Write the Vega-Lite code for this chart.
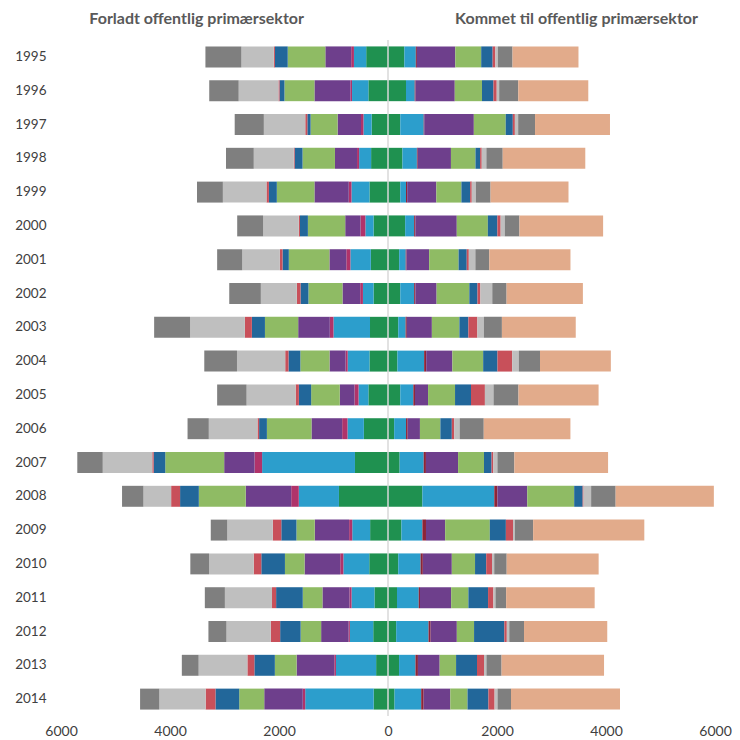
{
"$schema": "https://vega.github.io/schema/vega-lite/v6.json",
"width": 654, "height": 676,
"autosize": "none",
"padding": {"left": 61, "top": 40, "right": 25, "bottom": 24},
"background": "white",
"config": {"view": {"stroke": null}, "font": "Lato"},
"layer": [
{
"data": {"values": [
{"y":"1995","c":"c01","v":-400},{"y":"1995","c":"c02","v":-225},{"y":"1995","c":"c03","v":-50},{"y":"1995","c":"c04","v":-475},{"y":"1995","c":"c05","v":-690},{"y":"1995","c":"c06","v":-235},{"y":"1995","c":"c07","v":-20},{"y":"1995","c":"c08","v":-595},{"y":"1995","c":"c09","v":-660},
{"y":"1995","c":"c01","v":300},{"y":"1995","c":"c02","v":210},{"y":"1995","c":"c03r","v":20},{"y":"1995","c":"c04","v":705},{"y":"1995","c":"c05","v":475},{"y":"1995","c":"c06","v":210},{"y":"1995","c":"c07","v":50},{"y":"1995","c":"c08","v":45},{"y":"1995","c":"c09","v":270},{"y":"1995","c":"c10","v":1210},
{"y":"1996","c":"c01","v":-360},{"y":"1996","c":"c02","v":-300},{"y":"1996","c":"c03","v":-30},{"y":"1996","c":"c04","v":-660},{"y":"1996","c":"c05","v":-550},{"y":"1996","c":"c06","v":-90},{"y":"1996","c":"c07","v":-20},{"y":"1996","c":"c08","v":-730},{"y":"1996","c":"c09","v":-540},
{"y":"1996","c":"c01","v":330},{"y":"1996","c":"c02","v":160},{"y":"1996","c":"c03r","v":15},{"y":"1996","c":"c04","v":720},{"y":"1996","c":"c05","v":500},{"y":"1996","c":"c06","v":210},{"y":"1996","c":"c07","v":60},{"y":"1996","c":"c08","v":45},{"y":"1996","c":"c09","v":350},{"y":"1996","c":"c10","v":1285},
{"y":"1997","c":"c01","v":-300},{"y":"1997","c":"c02","v":-150},{"y":"1997","c":"c03","v":-45},{"y":"1997","c":"c04","v":-430},{"y":"1997","c":"c05","v":-495},{"y":"1997","c":"c06","v":-60},{"y":"1997","c":"c07","v":-38},{"y":"1997","c":"c08","v":-760},{"y":"1997","c":"c09","v":-535},
{"y":"1997","c":"c01","v":225},{"y":"1997","c":"c02","v":430},{"y":"1997","c":"c03r","v":10},{"y":"1997","c":"c04","v":910},{"y":"1997","c":"c05","v":585},{"y":"1997","c":"c06","v":130},{"y":"1997","c":"c07","v":38},{"y":"1997","c":"c08","v":60},{"y":"1997","c":"c09","v":310},{"y":"1997","c":"c10","v":1375},
{"y":"1998","c":"c01","v":-310},{"y":"1998","c":"c02","v":-220},{"y":"1998","c":"c03","v":-38},{"y":"1998","c":"c04","v":-405},{"y":"1998","c":"c05","v":-595},{"y":"1998","c":"c06","v":-145},{"y":"1998","c":"c07","v":-15},{"y":"1998","c":"c08","v":-735},{"y":"1998","c":"c09","v":-510},
{"y":"1998","c":"c01","v":265},{"y":"1998","c":"c02","v":265},{"y":"1998","c":"c03r","v":15},{"y":"1998","c":"c04","v":610},{"y":"1998","c":"c05","v":450},{"y":"1998","c":"c06","v":85},{"y":"1998","c":"c07","v":30},{"y":"1998","c":"c08","v":85},{"y":"1998","c":"c09","v":300},{"y":"1998","c":"c10","v":1515},
{"y":"1999","c":"c01","v":-340},{"y":"1999","c":"c02","v":-330},{"y":"1999","c":"c03","v":-50},{"y":"1999","c":"c04","v":-630},{"y":"1999","c":"c05","v":-690},{"y":"1999","c":"c06","v":-145},{"y":"1999","c":"c07","v":-45},{"y":"1999","c":"c08","v":-800},{"y":"1999","c":"c09","v":-475},
{"y":"1999","c":"c01","v":225},{"y":"1999","c":"c02","v":105},{"y":"1999","c":"c03r","v":22},{"y":"1999","c":"c04","v":535},{"y":"1999","c":"c05","v":460},{"y":"1999","c":"c06","v":160},{"y":"1999","c":"c07","v":30},{"y":"1999","c":"c08","v":75},{"y":"1999","c":"c09","v":270},{"y":"1999","c":"c10","v":1430},
{"y":"2000","c":"c01","v":-265},{"y":"2000","c":"c02","v":-150},{"y":"2000","c":"c03","v":-90},{"y":"2000","c":"c04","v":-280},{"y":"2000","c":"c05","v":-685},{"y":"2000","c":"c06","v":-145},{"y":"2000","c":"c07","v":-22},{"y":"2000","c":"c08","v":-655},{"y":"2000","c":"c09","v":-475},
{"y":"2000","c":"c01","v":315},{"y":"2000","c":"c02","v":165},{"y":"2000","c":"c03r","v":22},{"y":"2000","c":"c04","v":760},{"y":"2000","c":"c05","v":570},{"y":"2000","c":"c06","v":175},{"y":"2000","c":"c07","v":60},{"y":"2000","c":"c08","v":75},{"y":"2000","c":"c09","v":270},{"y":"2000","c":"c10","v":1535},
{"y":"2001","c":"c01","v":-315},{"y":"2001","c":"c02","v":-375},{"y":"2001","c":"c03","v":-75},{"y":"2001","c":"c04","v":-310},{"y":"2001","c":"c05","v":-745},{"y":"2001","c":"c06","v":-115},{"y":"2001","c":"c07","v":-50},{"y":"2001","c":"c08","v":-690},{"y":"2001","c":"c09","v":-460},
{"y":"2001","c":"c01","v":205},{"y":"2001","c":"c02","v":120},{"y":"2001","c":"c03r","v":15},{"y":"2001","c":"c04","v":415},{"y":"2001","c":"c05","v":540},{"y":"2001","c":"c06","v":150},{"y":"2001","c":"c07","v":38},{"y":"2001","c":"c08","v":120},{"y":"2001","c":"c09","v":255},{"y":"2001","c":"c10","v":1490},
{"y":"2002","c":"c01","v":-265},{"y":"2002","c":"c02","v":-195},{"y":"2002","c":"c03","v":-50},{"y":"2002","c":"c04","v":-325},{"y":"2002","c":"c05","v":-625},{"y":"2002","c":"c06","v":-145},{"y":"2002","c":"c07","v":-68},{"y":"2002","c":"c08","v":-660},{"y":"2002","c":"c09","v":-580},
{"y":"2002","c":"c01","v":225},{"y":"2002","c":"c02","v":255},{"y":"2002","c":"c03r","v":22},{"y":"2002","c":"c04","v":390},{"y":"2002","c":"c05","v":600},{"y":"2002","c":"c06","v":150},{"y":"2002","c":"c07","v":53},{"y":"2002","c":"c08","v":218},{"y":"2002","c":"c09","v":263},{"y":"2002","c":"c10","v":1400},
{"y":"2003","c":"c01","v":-330},{"y":"2003","c":"c02","v":-670},{"y":"2003","c":"c03","v":-68},{"y":"2003","c":"c04","v":-580},{"y":"2003","c":"c05","v":-610},{"y":"2003","c":"c06","v":-240},{"y":"2003","c":"c07","v":-128},{"y":"2003","c":"c08","v":-1005},{"y":"2003","c":"c09","v":-660},
{"y":"2003","c":"c01","v":188},{"y":"2003","c":"c02","v":135},{"y":"2003","c":"c03r","v":22},{"y":"2003","c":"c04","v":460},{"y":"2003","c":"c05","v":505},{"y":"2003","c":"c06","v":165},{"y":"2003","c":"c07","v":165},{"y":"2003","c":"c08","v":120},{"y":"2003","c":"c09","v":330},{"y":"2003","c":"c10","v":1355},
{"y":"2004","c":"c01","v":-340},{"y":"2004","c":"c02","v":-400},{"y":"2004","c":"c03","v":-38},{"y":"2004","c":"c04","v":-295},{"y":"2004","c":"c05","v":-535},{"y":"2004","c":"c06","v":-218},{"y":"2004","c":"c07","v":-60},{"y":"2004","c":"c08","v":-885},{"y":"2004","c":"c09","v":-600},
{"y":"2004","c":"c01","v":173},{"y":"2004","c":"c02","v":490},{"y":"2004","c":"c03r","v":38},{"y":"2004","c":"c04","v":480},{"y":"2004","c":"c05","v":565},{"y":"2004","c":"c06","v":263},{"y":"2004","c":"c07","v":270},{"y":"2004","c":"c08","v":120},{"y":"2004","c":"c09","v":390},{"y":"2004","c":"c10","v":1300},
{"y":"2005","c":"c01","v":-360},{"y":"2005","c":"c02","v":-180},{"y":"2005","c":"c03","v":-75},{"y":"2005","c":"c04","v":-270},{"y":"2005","c":"c05","v":-525},{"y":"2005","c":"c06","v":-225},{"y":"2005","c":"c07","v":-60},{"y":"2005","c":"c08","v":-900},{"y":"2005","c":"c09","v":-540},
{"y":"2005","c":"c01","v":225},{"y":"2005","c":"c02","v":240},{"y":"2005","c":"c03r","v":30},{"y":"2005","c":"c04","v":240},{"y":"2005","c":"c05","v":495},{"y":"2005","c":"c06","v":293},{"y":"2005","c":"c07","v":255},{"y":"2005","c":"c08","v":158},{"y":"2005","c":"c09","v":458},{"y":"2005","c":"c10","v":1470},
{"y":"2006","c":"c01","v":-443},{"y":"2006","c":"c02","v":-300},{"y":"2006","c":"c03","v":-98},{"y":"2006","c":"c04","v":-563},{"y":"2006","c":"c05","v":-818},{"y":"2006","c":"c06","v":-143},{"y":"2006","c":"c07","v":-30},{"y":"2006","c":"c08","v":-893},{"y":"2006","c":"c09","v":-390},
{"y":"2006","c":"c01","v":113},{"y":"2006","c":"c02","v":218},{"y":"2006","c":"c03r","v":30},{"y":"2006","c":"c04","v":225},{"y":"2006","c":"c05","v":375},{"y":"2006","c":"c06","v":210},{"y":"2006","c":"c07","v":45},{"y":"2006","c":"c08","v":98},{"y":"2006","c":"c09","v":443},{"y":"2006","c":"c10","v":1590},
{"y":"2007","c":"c01","v":-606},{"y":"2007","c":"c02","v":-1704},{"y":"2007","c":"c03","v":-139},{"y":"2007","c":"c04","v":-557},{"y":"2007","c":"c05","v":-1081},{"y":"2007","c":"c06","v":-213},{"y":"2007","c":"c07","v":-25},{"y":"2007","c":"c08","v":-909},{"y":"2007","c":"c09","v":-467},
{"y":"2007","c":"c01","v":213},{"y":"2007","c":"c02","v":442},{"y":"2007","c":"c03r","v":41},{"y":"2007","c":"c04","v":590},{"y":"2007","c":"c05","v":475},{"y":"2007","c":"c06","v":139},{"y":"2007","c":"c07","v":33},{"y":"2007","c":"c08","v":74},{"y":"2007","c":"c09","v":311},{"y":"2007","c":"c10","v":1720},
{"y":"2008","c":"c01","v":-900},{"y":"2008","c":"c02","v":-737},{"y":"2008","c":"c03","v":-139},{"y":"2008","c":"c04","v":-835},{"y":"2008","c":"c05","v":-860},{"y":"2008","c":"c06","v":-344},{"y":"2008","c":"c07","v":-164},{"y":"2008","c":"c08","v":-508},{"y":"2008","c":"c09","v":-393},
{"y":"2008","c":"c01","v":631},{"y":"2008","c":"c02","v":1319},{"y":"2008","c":"c03r","v":57},{"y":"2008","c":"c04","v":549},{"y":"2008","c":"c05","v":860},{"y":"2008","c":"c06","v":156},{"y":"2008","c":"c07","v":16},{"y":"2008","c":"c08","v":139},{"y":"2008","c":"c09","v":450},{"y":"2008","c":"c10","v":1802},
{"y":"2009","c":"c01","v":-328},{"y":"2009","c":"c02","v":-328},{"y":"2009","c":"c03","v":-57},{"y":"2009","c":"c04","v":-631},{"y":"2009","c":"c05","v":-336},{"y":"2009","c":"c06","v":-278},{"y":"2009","c":"c07","v":-156},{"y":"2009","c":"c08","v":-835},{"y":"2009","c":"c09","v":-303},
{"y":"2009","c":"c01","v":246},{"y":"2009","c":"c02","v":385},{"y":"2009","c":"c03r","v":66},{"y":"2009","c":"c04","v":352},{"y":"2009","c":"c05","v":819},{"y":"2009","c":"c06","v":295},{"y":"2009","c":"c07","v":131},{"y":"2009","c":"c08","v":33},{"y":"2009","c":"c09","v":336},{"y":"2009","c":"c10","v":2040},
{"y":"2010","c":"c01","v":-344},{"y":"2010","c":"c02","v":-475},{"y":"2010","c":"c03","v":-57},{"y":"2010","c":"c04","v":-655},{"y":"2010","c":"c05","v":-360},{"y":"2010","c":"c06","v":-434},{"y":"2010","c":"c07","v":-139},{"y":"2010","c":"c08","v":-819},{"y":"2010","c":"c09","v":-344},
{"y":"2010","c":"c01","v":188},{"y":"2010","c":"c02","v":410},{"y":"2010","c":"c03r","v":41},{"y":"2010","c":"c04","v":532},{"y":"2010","c":"c05","v":426},{"y":"2010","c":"c06","v":205},{"y":"2010","c":"c07","v":106},{"y":"2010","c":"c08","v":41},{"y":"2010","c":"c09","v":229},{"y":"2010","c":"c10","v":1687},
{"y":"2011","c":"c01","v":-248},{"y":"2011","c":"c02","v":-421},{"y":"2011","c":"c03","v":-38},{"y":"2011","c":"c04","v":-496},{"y":"2011","c":"c05","v":-361},{"y":"2011","c":"c06","v":-489},{"y":"2011","c":"c07","v":-75},{"y":"2011","c":"c08","v":-865},{"y":"2011","c":"c09","v":-368},
{"y":"2011","c":"c01","v":165},{"y":"2011","c":"c02","v":399},{"y":"2011","c":"c03r","v":23},{"y":"2011","c":"c04","v":572},{"y":"2011","c":"c05","v":316},{"y":"2011","c":"c06","v":361},{"y":"2011","c":"c07","v":98},{"y":"2011","c":"c08","v":38},{"y":"2011","c":"c09","v":196},{"y":"2011","c":"c10","v":1624},
{"y":"2012","c":"c01","v":-271},{"y":"2012","c":"c02","v":-429},{"y":"2012","c":"c03","v":-23},{"y":"2012","c":"c04","v":-504},{"y":"2012","c":"c05","v":-376},{"y":"2012","c":"c06","v":-376},{"y":"2012","c":"c07","v":-173},{"y":"2012","c":"c08","v":-812},{"y":"2012","c":"c09","v":-331},
{"y":"2012","c":"c01","v":150},{"y":"2012","c":"c02","v":594},{"y":"2012","c":"c03r","v":38},{"y":"2012","c":"c04","v":481},{"y":"2012","c":"c05","v":316},{"y":"2012","c":"c06","v":556},{"y":"2012","c":"c07","v":45},{"y":"2012","c":"c08","v":45},{"y":"2012","c":"c09","v":271},{"y":"2012","c":"c10","v":1527},
{"y":"2013","c":"c01","v":-218},{"y":"2013","c":"c02","v":-737},{"y":"2013","c":"c03","v":-30},{"y":"2013","c":"c04","v":-692},{"y":"2013","c":"c05","v":-399},{"y":"2013","c":"c06","v":-376},{"y":"2013","c":"c07","v":-128},{"y":"2013","c":"c08","v":-895},{"y":"2013","c":"c09","v":-308},
{"y":"2013","c":"c01","v":203},{"y":"2013","c":"c02","v":301},{"y":"2013","c":"c03r","v":45},{"y":"2013","c":"c04","v":399},{"y":"2013","c":"c05","v":301},{"y":"2013","c":"c06","v":384},{"y":"2013","c":"c07","v":128},{"y":"2013","c":"c08","v":45},{"y":"2013","c":"c09","v":278},{"y":"2013","c":"c10","v":1880},
{"y":"2014","c":"c01","v":-263},{"y":"2014","c":"c02","v":-1256},{"y":"2014","c":"c03","v":-45},{"y":"2014","c":"c04","v":-707},{"y":"2014","c":"c05","v":-459},{"y":"2014","c":"c06","v":-436},{"y":"2014","c":"c07","v":-180},{"y":"2014","c":"c08","v":-850},{"y":"2014","c":"c09","v":-353},
{"y":"2014","c":"c01","v":120},{"y":"2014","c":"c02","v":489},{"y":"2014","c":"c03r","v":45},{"y":"2014","c":"c04","v":489},{"y":"2014","c":"c05","v":316},{"y":"2014","c":"c06","v":384},{"y":"2014","c":"c07","v":113},{"y":"2014","c":"c08","v":53},{"y":"2014","c":"c09","v":248},{"y":"2014","c":"c10","v":2000}
]},
"mark": {"type": "bar"},
"encoding": {
"y": {"field": "y", "type": "nominal", "title": null, "scale": {"paddingInner": 0.38, "paddingOuter": 0.19}, "axis": {"ticks": false, "domain": false, "labelPadding": 15, "labelFontSize": 13.5, "labelColor": "#404040"}},
"x": {"field": "v", "type": "quantitative", "stack": "zero", "scale": {"domain": [-6000, 6000], "nice": false}, "axis": {"values": [-6000, -4000, -2000, 0, 2000, 4000, 6000], "labelExpr": "format(abs(datum.value), 'd')", "labelFlush": false, "grid": false, "ticks": false, "domain": false, "title": null, "labelPadding": 8, "labelFontSize": 14, "labelColor": "#404040"}},
"color": {"field": "c", "type": "nominal", "scale": {"domain": ["c01","c02","c03","c03r","c04","c05","c06","c07","c08","c09","c10"], "range": ["#1f9150","#2c9ecc","#b0336a","#8e2436","#6e3f8c","#8fbb64","#22679a","#c8505a","#bfbfbf","#7f7f7f","#e2ab8b"]}, "legend": null},
"order": {"field": "c", "sort": "ascending"}
}
},
{
"data": {"values": [{"z": 0}]},
"mark": {"type": "rule", "color": "#d9d9d9", "strokeWidth": 1.5},
"encoding": {
"x": {"field": "z", "type": "quantitative", "axis": {"orient": "top", "values": [-3520, 3450], "labelExpr": "datum.value < 0 ? 'Forladt offentlig primærsektor' : 'Kommet til offentlig primærsektor'", "labelFlush": false, "ticks": false, "domain": false, "grid": false, "title": null, "labelFontSize": 16, "labelFontWeight": "bold", "labelColor": "#595959", "labelPadding": 14, "labelLimit": 400}}
}
}
],
"resolve": {"axis": {"x": "independent"}}
}
